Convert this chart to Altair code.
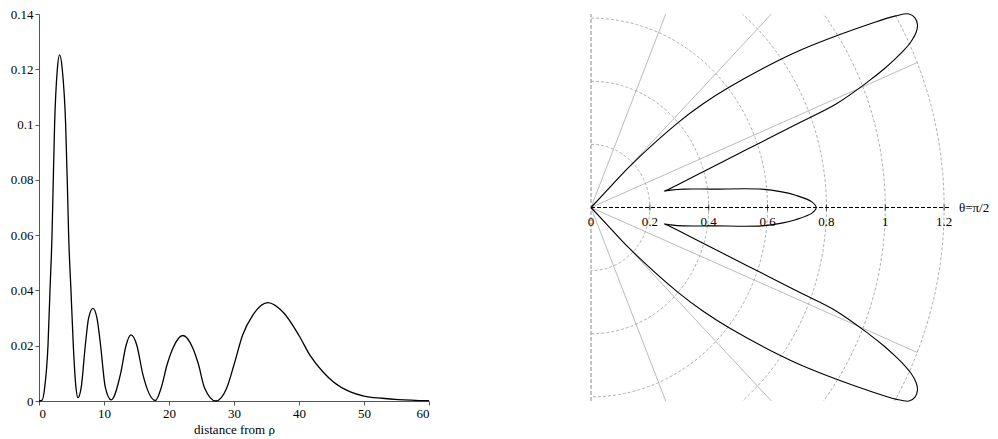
import altair as alt
import pandas as pd
import numpy as np

# ---------------- left panel: radial distribution ----------------
dist = [0.0, 0.46, 0.87, 1.38, 1.69, 2.0, 2.15, 2.4, 2.82, 3.17, 3.58, 4.1, 4.4, 4.56, 4.92,
        5.28, 5.69, 6.0, 6.5, 7.12, 7.63, 8.3, 8.92, 9.48, 10.2, 11.1, 12.56, 13.38, 14.15,
        15.07, 15.94, 17.9, 18.8, 19.7, 20.6, 22.13, 23.67, 24.55, 25.46, 27.2, 28.9, 30.0,
        31.33, 32.9, 35.2, 37.6, 40.0, 41.7, 43.7, 45.3, 47.9, 50.0, 52.8, 55.3, 60.0]
prob = [0.0, 0.0002, 0.0048, 0.02, 0.04, 0.06, 0.075, 0.10, 0.12, 0.1252, 0.12, 0.10, 0.075,
        0.06, 0.04, 0.02, 0.0048, 0.0012, 0.005, 0.02, 0.03, 0.0335, 0.03, 0.02, 0.005, 0.0004,
        0.01, 0.02, 0.0239, 0.02, 0.01, 0.0002, 0.0048, 0.0131, 0.0191, 0.0237, 0.0191, 0.0131,
        0.0048, 0.0, 0.0048, 0.0131, 0.0239, 0.0311, 0.0356, 0.032, 0.0237, 0.0165, 0.0105,
        0.0069, 0.0033, 0.0018, 0.001, 0.0005, 0.0001]
x_ticks = [0, 10, 20, 30, 40, 50, 60]
y_ticks = [0, 0.02, 0.04, 0.06, 0.08, 0.1, 0.12, 0.14]

# ---------------- right panel: polar angular plot (theta from vertical, degrees) ----------------
theta_deg = [45.0, 45.1, 45.17, 47.73, 49.22, 50.92, 53.85, 55.08, 56.87, 58.43, 59.62, 60.43,
             61.39, 62.46, 63.38, 64.22, 64.89, 65.53, 66.22, 67.00, 68.53, 69.18, 70.07, 72.12,
             74.31, 76.09, 77.58, 78.23, 78.53, 79.54, 81.93, 84.28, 85.64, 86.81, 88.63, 90.0,
             91.37, 93.19, 94.36, 95.72, 98.07, 100.46, 101.47, 101.77, 102.42, 103.91, 105.69,
             107.88, 109.93, 110.82, 111.47, 113.00, 113.78, 114.47, 115.11, 115.78, 116.62,
             117.54, 118.61, 119.57, 120.38, 121.57, 123.13, 124.92, 126.15, 129.08, 130.78,
             132.27, 134.83, 134.9, 135.0]
radius = [0.0, 0.09, 0.1807, 0.3998, 0.5017, 0.6026, 0.7906, 0.8741, 0.9938, 1.1087, 1.2002,
          1.2425, 1.2542, 1.2513, 1.2354, 1.2076, 1.1746, 1.1349, 1.0880, 1.0262, 0.8933,
          0.7668, 0.6429, 0.4671, 0.3628, 0.3073, 0.2706, 0.2544, 0.2766, 0.3206, 0.4146,
          0.5835, 0.6505, 0.6963, 0.7509, 0.7653,
          0.7509, 0.6963, 0.6505, 0.5835, 0.4146, 0.3206, 0.2766, 0.2544, 0.2706, 0.3073,
          0.3628, 0.4671, 0.6429, 0.7668, 0.8933, 1.0262, 1.0880, 1.1349, 1.1746, 1.2076,
          1.2354, 1.2513, 1.2542, 1.2425, 1.2002, 1.1087, 0.9938, 0.8741, 0.7906, 0.6026,
          0.5017, 0.3998, 0.1807, 0.09, 0.0]
grid_radii = [0.2, 0.4, 0.6, 0.8, 1.0, 1.2]
spoke_angles = [22.5, 45.0, 67.5, 112.5, 135.0, 157.5]
r_ticks = [0, 0.2, 0.4, 0.6, 0.8, 1.0, 1.2]
r_tick_labels = ["0", "0.2", "0.4", "0.6", "0.8", "1", "1.2"]
axis_label = "θ=π/2"

FONT = "Liberation Serif"
X_MAX = 1.22
Y_MAX = 0.613
R_MAX = 1.2

left = alt.Chart(pd.DataFrame({"d": dist, "p": prob})).mark_line(
    color="black", strokeWidth=1.3, interpolate="monotone"
).encode(
    x=alt.X("d:Q", scale=alt.Scale(domain=[0, 60], nice=False, zero=False),
            axis=alt.Axis(values=x_ticks, title="distance from ρ", format="d")),
    y=alt.Y("p:Q", scale=alt.Scale(domain=[0, 0.14], nice=False),
            axis=alt.Axis(values=y_ticks, title=None, format="~g")),
).properties(width=390, height=387)

xs = alt.Scale(domain=[0, X_MAX], nice=False, zero=False)
ys = alt.Scale(domain=[-Y_MAX, Y_MAX], nice=False, zero=False)

# grid circles (geometry built from the radii list)
ang = np.arange(0, 181, 1)
circ_df = pd.DataFrame([(r, a) for r in grid_radii for a in ang], columns=["r", "a"])
circles = alt.Chart(circ_df).transform_calculate(
    cx="datum.r*sin(datum.a*PI/180)", cy="datum.r*cos(datum.a*PI/180)"
).mark_line(color="#9a9a9a", strokeWidth=0.8, strokeDash=[3, 2], clip=True).encode(
    x=alt.X("cx:Q", scale=xs, axis=None),
    y=alt.Y("cy:Q", scale=ys, axis=None),
    detail="r:N",
    order="a:Q",
)

spokes = alt.Chart(pd.DataFrame({"a": spoke_angles})).transform_calculate(
    x0="0", y0="0",
    x1=f"{R_MAX}*sin(datum.a*PI/180)", y1=f"{R_MAX}*cos(datum.a*PI/180)"
).mark_rule(color="#a8a8a8", strokeWidth=0.8, clip=True).encode(
    x=alt.X("x0:Q", scale=xs, axis=None), y=alt.Y("y0:Q", scale=ys, axis=None),
    x2="x1:Q", y2="y1:Q",
)

vaxis = alt.Chart(pd.DataFrame({"x": [0], "ya": [-Y_MAX], "yb": [Y_MAX]})).mark_rule(
    color="#8a8a8a", strokeWidth=1, strokeDash=[4, 2]
).encode(x=alt.X("x:Q", scale=xs, axis=None), y=alt.Y("ya:Q", scale=ys, axis=None), y2="yb:Q")

haxis = alt.Chart(pd.DataFrame({"y": [0], "xa": [0], "xb": [X_MAX]})).mark_rule(
    color="black", strokeWidth=1, strokeDash=[4, 2]
).encode(y=alt.Y("y:Q", scale=ys, axis=None), x=alt.X("xa:Q", scale=xs, axis=None), x2="xb:Q")

tick_df = pd.DataFrame({"x": r_ticks, "y": [0] * len(r_ticks), "lab": r_tick_labels})
ticks = alt.Chart(tick_df).transform_filter("datum.x > 0").mark_tick(
    orient="vertical", size=6, thickness=1, color="black"
).encode(x=alt.X("x:Q", scale=xs, axis=None), y=alt.Y("y:Q", scale=ys, axis=None))

labels = alt.Chart(tick_df).mark_text(dy=14, font=FONT, fontSize=13, color="black").encode(
    x=alt.X("x:Q", scale=xs, axis=None), y=alt.Y("y:Q", scale=ys, axis=None), text="lab:N"
)

end_label = alt.Chart(pd.DataFrame({"x": [X_MAX], "y": [0], "t": [axis_label]})).mark_text(
    align="left", dx=9, font=FONT, fontSize=13, color="black"
).encode(x=alt.X("x:Q", scale=xs, axis=None), y=alt.Y("y:Q", scale=ys, axis=None), text="t:N")

curve = alt.Chart(pd.DataFrame({"t": theta_deg, "r": radius, "i": list(range(len(radius)))})).transform_calculate(
    px="datum.r*sin(datum.t*PI/180)", py="datum.r*cos(datum.t*PI/180)"
).mark_line(color="black", strokeWidth=1.1, interpolate="catmull-rom").encode(
    x=alt.X("px:Q", scale=xs, axis=None),
    y=alt.Y("py:Q", scale=ys, axis=None),
    order="i:Q",
)

right = alt.layer(circles, spokes, vaxis, haxis, ticks, labels, end_label, curve).properties(
    width=round(X_MAX * 294), height=387
)

chart = alt.hconcat(left, right, spacing=155).properties(
    padding={"left": 2, "top": 0, "right": 0, "bottom": 0}
).configure_view(stroke=None).configure_axis(
    grid=False,
    domainColor="#555555",
    tickColor="#555555",
    tickSize=4,
    labelFont=FONT,
    labelFontSize=13,
    labelColor="black",
    titleFont=FONT,
    titleFontSize=13,
    titleFontWeight="normal",
    titleColor="black",
    labelPadding=2,
    titlePadding=3,
).configure_text(font=FONT)

chart.save("out.html", embed_options={"renderer": "svg", "actions": False})
